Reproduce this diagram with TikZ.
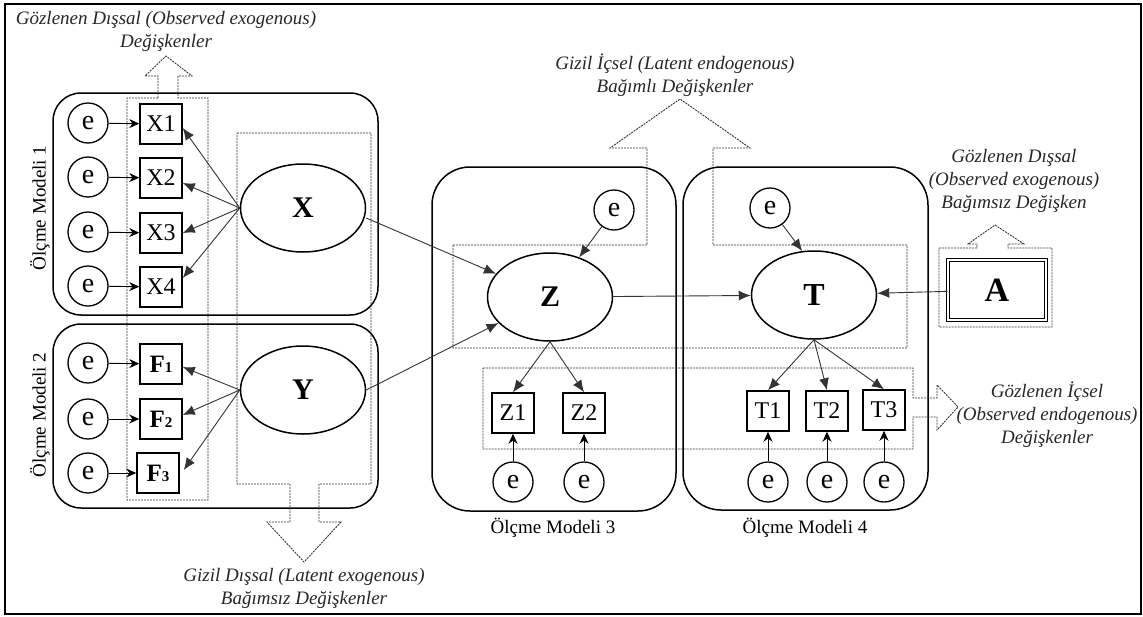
\documentclass[tikz,border=0pt]{standalone}
\usepackage{fontspec}
\setmainfont{Liberation Serif}
\usetikzlibrary{arrows.meta,shapes.geometric}
\begin{document}
\begin{tikzpicture}[x=1pt,y=-1pt,
  ecirc/.style={circle,draw,line width=1.3pt,minimum size=40pt,inner sep=0pt,font=\fontsize{28}{28}\selectfont},
  obs/.style={rectangle,draw,line width=1.5pt,minimum width=42pt,minimum height=40pt,inner sep=0pt,font=\fontsize{24}{24}\selectfont},
  lat/.style={ellipse,draw,line width=1.5pt,minimum width=125pt,minimum height=88pt,inner sep=0pt,font=\bfseries\fontsize{30}{30}\selectfont},
  model/.style={draw,line width=1.5pt},
  grp/.style={draw=black!80,line width=0.9pt,dash pattern=on 2pt off 1pt},
  conn/.style={draw=black!80,line width=0.9pt,-{Latex[length=12pt,width=10pt]}},
  econn/.style={draw=black,line width=0.9pt,-{Stealth[length=10pt,width=9pt]}},
  note/.style={align=center,text=black!85,font=\itshape\fontsize{19}{23}\selectfont},
  mlabel/.style={font=\fontsize{19}{23}\selectfont},
  flab/.style={obs,font=\bfseries\fontsize{25}{25}\selectfont}
]
\useasboundingbox (0,0) rectangle (1143,616);
\draw[line width=1.6pt] (5,4) rectangle (1141,614);

% measurement model frames
\draw[model,rounded corners=28pt] (53,93) rectangle (378,315);
\draw[model,rounded corners=28pt] (53,324) rectangle (378,508);
\draw[model,rounded corners=38pt] (432,167) rectangle (676,511);
\draw[model,rounded corners=38pt] (683,167) rectangle (928,510);

\node[mlabel,rotate=90] (m1) at (40,208) {Ölçme Modeli 1};
\node[mlabel,rotate=90] (m2) at (40,415) {Ölçme Modeli 2};
\node[mlabel] (m3) at (553,528) {Ölçme Modeli 3};
\node[mlabel] (m4) at (805,528) {Ölçme Modeli 4};

% dashed groups with hollow arrows
\draw[grp] (158,98) -- (158,76) -- (145,76) -- (166,56) -- (192,76) -- (178,76) -- (178,98)
  -- (208,98) -- (208,500) -- (127,500) -- (127,98) -- cycle;
\draw[grp] (237,133) -- (371,133) -- (371,484) -- (319,484) -- (319,522) -- (341,522)
  -- (304,562) -- (267,522) -- (290,522) -- (290,484) -- (237,484) -- cycle;
\draw[grp] (453,245) -- (647,245) -- (647,148) -- (610,148) -- (680,99) -- (750,148)
  -- (713,148) -- (713,245) -- (907,245) -- (907,348) -- (453,348) -- cycle;
\draw[grp] (483,368) -- (913,368) -- (913,398) -- (937,398) -- (937,385) -- (958,407)
  -- (937,430) -- (937,417) -- (913,417) -- (913,449) -- (483,449) -- cycle;
\draw[grp] (939,248) -- (977,248) -- (977,244) -- (968,244) -- (995,225) -- (1024,244)
  -- (1008,244) -- (1008,248) -- (1052,248) -- (1052,327) -- (939,327) -- cycle;

% annotations
\node[note] (n1) at (166,31) {Gözlenen Dışsal (Observed exogenous)\\Değişkenler};
\node[note] (n2) at (675,75) {Gizil İçsel (Latent endogenous)\\Bağımlı Değişkenler};
\node[note] (n3) at (1014,181) {Gözlenen Dışsal\\(Observed exogenous)\\Bağımsız Değişken};
\node[note] (n4) at (1047,415) {Gözlenen İçsel\\(Observed endogenous)\\Değişkenler};
\node[note] (n5) at (304,588) {Gizil Dışsal (Latent exogenous)\\Bağımsız Değişkenler};

% left observed variables
\node[obs] (X1) at (161,124) {X1};
\node[obs] (X2) at (161,178) {X2};
\node[obs] (X3) at (161,233) {X3};
\node[obs] (X4) at (161,287) {X4};
\node[flab] (F1) at (161,364) {F{\fontsize{15}{15}\selectfont 1}};
\node[flab] (F2) at (161,419) {F{\fontsize{15}{15}\selectfont 2}};
\node[flab] (F3) at (158,473) {F{\fontsize{15}{15}\selectfont 3}};

\node[ecirc] (e1) at (88,123) {e};
\node[ecirc] (e2) at (88,177) {e};
\node[ecirc] (e3) at (88,232) {e};
\node[ecirc] (e4) at (88,286) {e};
\node[ecirc] (e5) at (88,363) {e};
\node[ecirc] (e6) at (88,419) {e};
\node[ecirc] (e7) at (88,473) {e};

\foreach \a/\b in {e1/X1,e2/X2,e3/X3,e4/X4,e5/F1,e6/F2,e7/F3}
  \draw[econn] (\a) -- (\b);

% latent variables
\node[lat] (X) at (303,208) {X};
\node[lat] (Y) at (303,390) {Y};
\node[lat] (Z) at (550,297) {Z};
\node[lat,font=\bfseries\fontsize{32}{32}\selectfont] (T) at (814,295) {T};

\draw[conn] (X.west) -- ([yshift=-4pt]X1.east);
\draw[conn] (X.west) -- ([yshift=-5pt]X2.east);
\draw[conn] (X.west) -- (X3.east);
\draw[conn] (X.west) -- ([yshift=9pt]X4.east);
\draw[conn] (Y.west) -- ([yshift=-3pt]F1.east);
\draw[conn] (Y.west) -- ([yshift=4pt]F2.east);
\draw[conn] (Y.west) -- ([xshift=4pt,yshift=3pt]F3.east);

% disturbance terms
\node[ecirc] (eZ) at (614,210) {e};
\node[ecirc] (eT) at (770,208) {e};
\draw[conn] (eZ) -- (Z);
\draw[conn] (eT) -- (T.105);

\draw[conn] ([yshift=-10pt]X.east) -- (Z);
\draw[conn] (Y.east) -- (Z);
\draw[conn] (Z) -- (T);

% exogenous observed A
\node[rectangle,draw,double,double distance=2pt,line width=1.2pt,minimum width=98pt,minimum height=60pt,inner sep=0pt,font=\bfseries\fontsize{34}{34}\selectfont] (A) at (997,290) {A};
\draw[conn] (A) -- (T);

% endogenous indicators
\node[obs] (Z1) at (513,413) {Z1};
\node[obs] (Z2) at (584,413) {Z2};
\node[obs] (T1) at (768,411) {T1};
\node[obs] (T2) at (827,411) {T2};
\node[obs] (T3) at (884,410) {T3};

\draw[conn] (Z.south) -- (Z1.north);
\draw[conn] (Z.south) -- (Z2.north);
\draw[conn] (T.south) -- (T1.north);
\draw[conn] (T.south) -- (T2.north);
\draw[conn] (T.south) -- (T3.north);

\node[ecirc] (ez1) at (513,482) {e};
\node[ecirc] (ez2) at (584,482) {e};
\node[ecirc] (et1) at (768,482) {e};
\node[ecirc] (et2) at (827,482) {e};
\node[ecirc] (et3) at (884,482) {e};
\foreach \a/\b in {ez1/Z1,ez2/Z2,et1/T1,et2/T2,et3/T3}
  \draw[econn] (\a) -- (\b);
\end{tikzpicture}
\end{document}
